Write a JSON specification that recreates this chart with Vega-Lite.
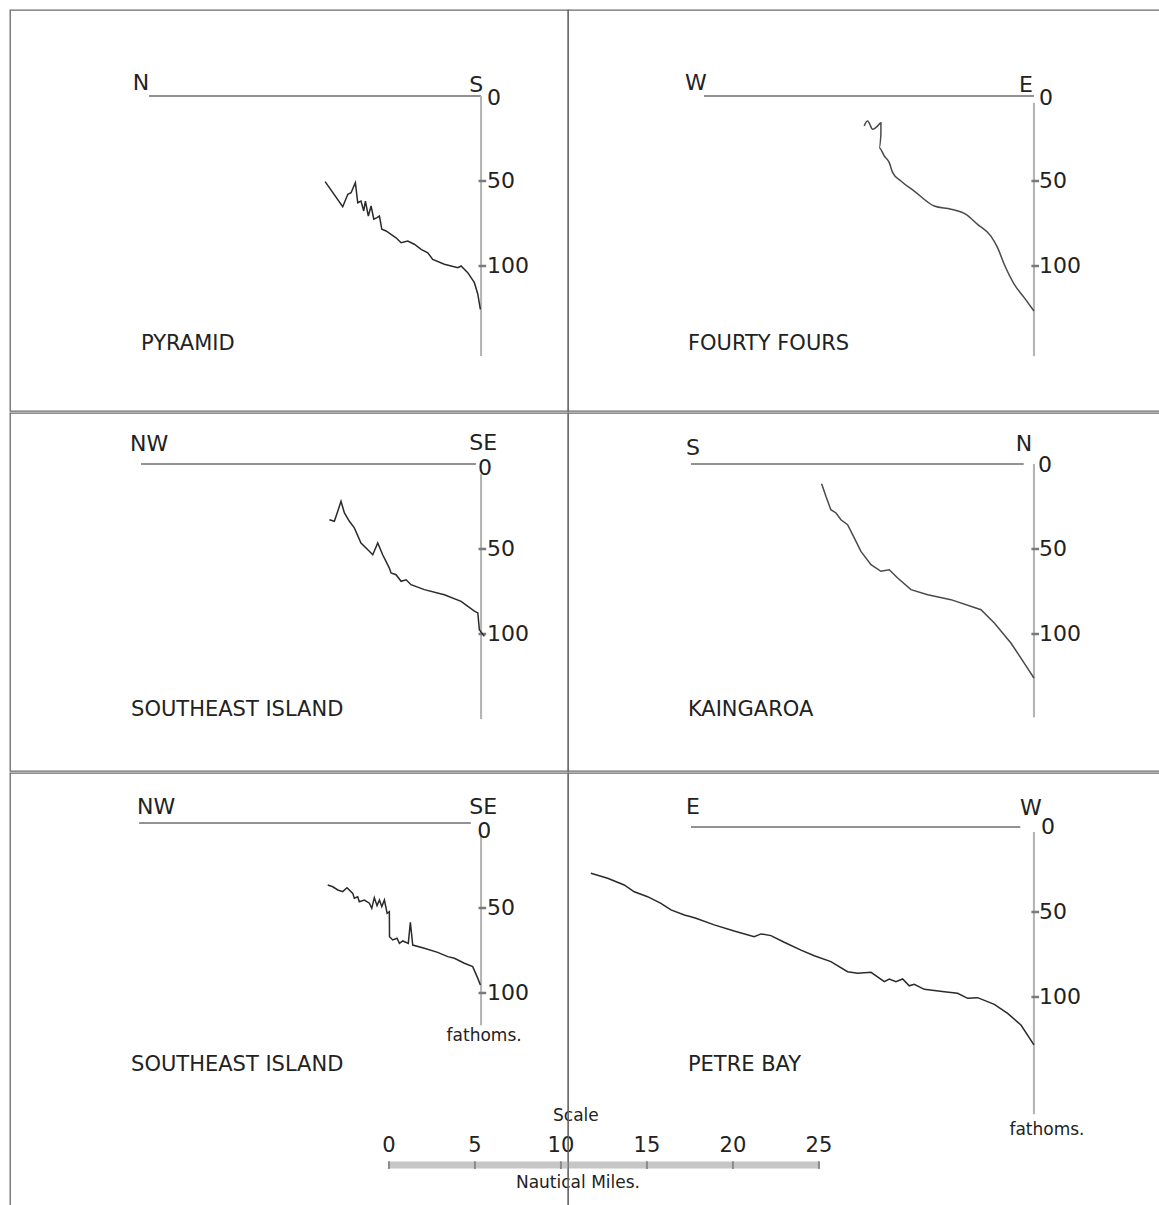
{
"$schema": "https://vega.github.io/schema/vega-lite/v6.json",
"padding": {"left": 9, "top": 9, "right": 0, "bottom": 2},
"background": "white",
"spacing": 0,
"config": {"view": {"stroke": "#6a6a6a", "strokeWidth": 1.3}, "concat": {"spacing": 0}, "text": {"font": "DejaVu Sans", "color": "#222"}},
"resolve": {"scale": {"x": "independent", "y": "independent"}},
"datasets": {
"rules": [
{"panel":"P1","kind":"surface","d":19.44,"d2":0,"depth":0,"depth2":0},
{"panel":"P1","kind":"axis","d":0,"d2":0,"depth":0,"depth2":153},
{"panel":"P1","kind":"tick","d":0.15,"d2":-0.3,"depth":50,"depth2":50},
{"panel":"P1","kind":"tick","d":0.15,"d2":-0.3,"depth":100,"depth2":100},
{"panel":"P2","kind":"surface","d":19.32,"d2":0,"depth":0,"depth2":0},
{"panel":"P2","kind":"axis","d":0,"d2":0,"depth":4,"depth2":153},
{"panel":"P2","kind":"tick","d":0.15,"d2":-0.3,"depth":50,"depth2":50},
{"panel":"P2","kind":"tick","d":0.15,"d2":-0.3,"depth":100,"depth2":100},
{"panel":"P3","kind":"surface","d":19.91,"d2":0.3,"depth":0,"depth2":0},
{"panel":"P3","kind":"axis","d":0,"d2":0,"depth":6,"depth2":150},
{"panel":"P3","kind":"tick","d":0.15,"d2":-0.3,"depth":50,"depth2":50},
{"panel":"P3","kind":"tick","d":0.15,"d2":-0.3,"depth":100,"depth2":100},
{"panel":"P4","kind":"surface","d":20.08,"d2":0.6,"depth":0,"depth2":0},
{"panel":"P4","kind":"axis","d":0,"d2":0,"depth":0,"depth2":149},
{"panel":"P4","kind":"tick","d":0.15,"d2":-0.3,"depth":50,"depth2":50},
{"panel":"P4","kind":"tick","d":0.15,"d2":-0.3,"depth":100,"depth2":100},
{"panel":"P5","kind":"surface","d":20.02,"d2":0.6,"depth":0,"depth2":0},
{"panel":"P5","kind":"axis","d":0,"d2":0,"depth":7,"depth2":119},
{"panel":"P5","kind":"tick","d":0.15,"d2":-0.3,"depth":50,"depth2":50},
{"panel":"P5","kind":"tick","d":0.15,"d2":-0.3,"depth":100,"depth2":100},
{"panel":"P6","kind":"surface","d":20.08,"d2":0.8,"depth":0,"depth2":0},
{"panel":"P6","kind":"axis","d":0,"d2":0,"depth":3,"depth2":169},
{"panel":"P6","kind":"tick","d":0.15,"d2":-0.3,"depth":50,"depth2":50},
{"panel":"P6","kind":"tick","d":0.15,"d2":-0.3,"depth":100,"depth2":100}
],
"labels": [
{"panel":"P1","role":"dir","text":"N","d":19.91,"depth":-7.6},
{"panel":"P1","role":"dir","text":"S","d":0.29,"depth":-6.5},
{"panel":"P1","role":"zero","text":"0","d":-0.76,"depth":1.2},
{"panel":"P1","role":"num","text":"50","d":-0.35,"depth":50},
{"panel":"P1","role":"num","text":"100","d":-0.35,"depth":100},
{"panel":"P1","role":"name","text":"PYRAMID","d":19.91,"depth":145.9},
{"panel":"P2","role":"dir","text":"W","d":19.79,"depth":-7.6},
{"panel":"P2","role":"dir","text":"E","d":0.47,"depth":-6.5},
{"panel":"P2","role":"zero","text":"0","d":-0.7,"depth":1.2},
{"panel":"P2","role":"num","text":"50","d":-0.3,"depth":50},
{"panel":"P2","role":"num","text":"100","d":-0.3,"depth":100},
{"panel":"P2","role":"name","text":"FOURTY FOURS","d":20.26,"depth":145.9},
{"panel":"P3","role":"dir","text":"NW","d":19.44,"depth":-11.8},
{"panel":"P3","role":"dir","text":"SE","d":-0.12,"depth":-12.4},
{"panel":"P3","role":"zero","text":"0","d":-0.23,"depth":2.6},
{"panel":"P3","role":"num","text":"50","d":-0.35,"depth":50},
{"panel":"P3","role":"num","text":"100","d":-0.35,"depth":100},
{"panel":"P3","role":"name","text":"SOUTHEAST ISLAND","d":20.49,"depth":144.7},
{"panel":"P4","role":"dir","text":"S","d":19.96,"depth":-9.4},
{"panel":"P4","role":"dir","text":"N","d":0.59,"depth":-11.8},
{"panel":"P4","role":"zero","text":"0","d":-0.64,"depth":0.6},
{"panel":"P4","role":"num","text":"50","d":-0.3,"depth":50},
{"panel":"P4","role":"num","text":"100","d":-0.3,"depth":100},
{"panel":"P4","role":"name","text":"KAINGAROA","d":20.26,"depth":144.7},
{"panel":"P5","role":"dir","text":"NW","d":19.03,"depth":-9.4},
{"panel":"P5","role":"dir","text":"SE","d":-0.12,"depth":-9.6},
{"panel":"P5","role":"zero","text":"0","d":-0.18,"depth":5.0},
{"panel":"P5","role":"num","text":"50","d":-0.35,"depth":50},
{"panel":"P5","role":"num","text":"100","d":-0.35,"depth":100},
{"panel":"P5","role":"name","text":"SOUTHEAST ISLAND","d":20.49,"depth":142.4},
{"panel":"P5","role":"unit","text":"fathoms.","d":-0.18,"depth":125.3},
{"panel":"P6","role":"dir","text":"E","d":19.96,"depth":-11.8},
{"panel":"P6","role":"dir","text":"W","d":0.18,"depth":-11.2},
{"panel":"P6","role":"zero","text":"0","d":-0.82,"depth":0},
{"panel":"P6","role":"num","text":"50","d":-0.3,"depth":50},
{"panel":"P6","role":"num","text":"100","d":-0.3,"depth":100},
{"panel":"P6","role":"name","text":"PETRE BAY","d":20.26,"depth":140},
{"panel":"P6","role":"unit","text":"fathoms.","d":-0.76,"depth":178.2}
],
"profiles": [
{"panel":"P1","i":1,"d":9.13,"depth":50.4},{"panel":"P1","i":2,"d":8.10,"depth":65.1},{"panel":"P1","i":3,"d":7.80,"depth":57.8},{"panel":"P1","i":4,"d":7.61,"depth":56.9},{"panel":"P1","i":5,"d":7.36,"depth":51.0},{"panel":"P1","i":6,"d":7.22,"depth":62.8},{"panel":"P1","i":7,"d":7.03,"depth":61.8},{"panel":"P1","i":8,"d":6.87,"depth":67.6},{"panel":"P1","i":9,"d":6.77,"depth":61.8},{"panel":"P1","i":10,"d":6.60,"depth":70.6},{"panel":"P1","i":11,"d":6.44,"depth":64.7},{"panel":"P1","i":12,"d":6.28,"depth":72.5},{"panel":"P1","i":13,"d":6.09,"depth":71.6},{"panel":"P1","i":14,"d":5.95,"depth":70.6},{"panel":"P1","i":15,"d":5.81,"depth":78.4},{"panel":"P1","i":16,"d":5.56,"depth":79.4},{"panel":"P1","i":17,"d":5.27,"depth":81.4},{"panel":"P1","i":18,"d":4.98,"depth":83.4},{"panel":"P1","i":19,"d":4.68,"depth":86.3},{"panel":"P1","i":20,"d":4.29,"depth":85.3},{"panel":"P1","i":21,"d":3.91,"depth":87.2},{"panel":"P1","i":22,"d":3.51,"depth":90.2},{"panel":"P1","i":23,"d":3.12,"depth":92.2},{"panel":"P1","i":24,"d":2.83,"depth":96.1},{"panel":"P1","i":25,"d":2.15,"depth":99.0},{"panel":"P1","i":26,"d":1.36,"depth":101.0},{"panel":"P1","i":27,"d":1.17,"depth":100.0},{"panel":"P1","i":28,"d":0.78,"depth":103.9},{"panel":"P1","i":29,"d":0.39,"depth":109.8},{"panel":"P1","i":30,"d":0.19,"depth":116.6},{"panel":"P1","i":31,"d":0.04,"depth":125.5},
{"panel":"P2","i":1,"d":9.94,"depth":17.6},{"panel":"P2","i":2,"d":9.74,"depth":14.7},{"panel":"P2","i":3,"d":9.44,"depth":19.6},{"panel":"P2","i":4,"d":9.15,"depth":17.6},{"panel":"P2","i":5,"d":8.96,"depth":15.7},{"panel":"P2","i":6,"d":8.96,"depth":22.5},{"panel":"P2","i":7,"d":9.06,"depth":30.4},{"panel":"P2","i":8,"d":8.76,"depth":35.3},{"panel":"P2","i":9,"d":8.47,"depth":39.2},{"panel":"P2","i":10,"d":8.27,"depth":45.1},{"panel":"P2","i":11,"d":7.79,"depth":50.0},{"panel":"P2","i":12,"d":7.01,"depth":55.9},{"panel":"P2","i":13,"d":5.84,"depth":64.7},{"panel":"P2","i":14,"d":4.86,"depth":66.6},{"panel":"P2","i":15,"d":3.98,"depth":69.6},{"panel":"P2","i":16,"d":3.30,"depth":75.5},{"panel":"P2","i":17,"d":2.52,"depth":82.4},{"panel":"P2","i":18,"d":2.13,"depth":89.2},{"panel":"P2","i":19,"d":1.74,"depth":99.0},{"panel":"P2","i":20,"d":1.15,"depth":110.8},{"panel":"P2","i":21,"d":0.57,"depth":118.6},{"panel":"P2","i":22,"d":0.0,"depth":126.5},
{"panel":"P3","i":1,"d":8.88,"depth":32.8},{"panel":"P3","i":2,"d":8.59,"depth":33.7},{"panel":"P3","i":3,"d":8.39,"depth":27.8},{"panel":"P3","i":4,"d":8.20,"depth":21.9},{"panel":"P3","i":5,"d":8.00,"depth":28.8},{"panel":"P3","i":6,"d":7.71,"depth":33.7},{"panel":"P3","i":7,"d":7.42,"depth":37.6},{"panel":"P3","i":8,"d":7.03,"depth":46.5},{"panel":"P3","i":9,"d":6.63,"depth":50.4},{"panel":"P3","i":10,"d":6.34,"depth":53.4},{"panel":"P3","i":11,"d":6.05,"depth":46.5},{"panel":"P3","i":12,"d":5.76,"depth":53.4},{"panel":"P3","i":13,"d":5.37,"depth":61.2},{"panel":"P3","i":14,"d":5.27,"depth":64.1},{"panel":"P3","i":15,"d":4.98,"depth":65.1},{"panel":"P3","i":16,"d":4.68,"depth":69.0},{"panel":"P3","i":17,"d":4.39,"depth":68.1},{"panel":"P3","i":18,"d":4.10,"depth":71.0},{"panel":"P3","i":19,"d":3.32,"depth":73.9},{"panel":"P3","i":20,"d":2.15,"depth":76.9},{"panel":"P3","i":21,"d":1.17,"depth":80.8},{"panel":"P3","i":22,"d":0.39,"depth":86.6},{"panel":"P3","i":23,"d":0.19,"depth":87.6},{"panel":"P3","i":24,"d":0.10,"depth":97.5},{"panel":"P3","i":25,"d":-0.19,"depth":101.4},
{"panel":"P4","i":1,"d":12.43,"depth":11.6},{"panel":"P4","i":2,"d":12.18,"depth":19.0},{"panel":"P4","i":3,"d":11.89,"depth":26.9},{"panel":"P4","i":4,"d":11.59,"depth":28.8},{"panel":"P4","i":5,"d":11.30,"depth":32.8},{"panel":"P4","i":6,"d":10.91,"depth":35.7},{"panel":"P4","i":7,"d":10.52,"depth":43.5},{"panel":"P4","i":8,"d":10.13,"depth":51.4},{"panel":"P4","i":9,"d":9.54,"depth":59.2},{"panel":"P4","i":10,"d":8.96,"depth":63.1},{"panel":"P4","i":11,"d":8.47,"depth":62.2},{"panel":"P4","i":12,"d":7.98,"depth":67.1},{"panel":"P4","i":13,"d":7.20,"depth":73.9},{"panel":"P4","i":14,"d":6.22,"depth":76.9},{"panel":"P4","i":15,"d":4.86,"depth":79.8},{"panel":"P4","i":16,"d":3.10,"depth":85.7},{"panel":"P4","i":17,"d":2.32,"depth":93.5},{"panel":"P4","i":18,"d":1.35,"depth":105.3},{"panel":"P4","i":19,"d":0.57,"depth":117.1},{"panel":"P4","i":20,"d":0.0,"depth":125.9},
{"panel":"P5","i":1,"d":8.98,"depth":36.5},{"panel":"P5","i":2,"d":8.68,"depth":37.5},{"panel":"P5","i":3,"d":8.39,"depth":39.4},{"panel":"P5","i":4,"d":8.10,"depth":40.4},{"panel":"P5","i":5,"d":7.85,"depth":38.1},{"panel":"P5","i":6,"d":7.51,"depth":41.4},{"panel":"P5","i":7,"d":7.42,"depth":44.3},{"panel":"P5","i":8,"d":7.22,"depth":43.4},{"panel":"P5","i":9,"d":7.13,"depth":46.3},{"panel":"P5","i":10,"d":6.83,"depth":45.3},{"panel":"P5","i":11,"d":6.54,"depth":47.2},{"panel":"P5","i":12,"d":6.40,"depth":50.2},{"panel":"P5","i":13,"d":6.25,"depth":43.9},{"panel":"P5","i":14,"d":6.09,"depth":48.6},{"panel":"P5","i":15,"d":5.95,"depth":45.3},{"panel":"P5","i":16,"d":5.81,"depth":49.2},{"panel":"P5","i":17,"d":5.66,"depth":45.3},{"panel":"P5","i":18,"d":5.50,"depth":53.1},{"panel":"P5","i":19,"d":5.37,"depth":52.2},{"panel":"P5","i":20,"d":5.36,"depth":66.9},{"panel":"P5","i":21,"d":5.17,"depth":68.8},{"panel":"P5","i":22,"d":4.92,"depth":67.8},{"panel":"P5","i":23,"d":4.78,"depth":70.8},{"panel":"P5","i":24,"d":4.58,"depth":69.4},{"panel":"P5","i":25,"d":4.26,"depth":70.8},{"panel":"P5","i":26,"d":4.14,"depth":58.4},{"panel":"P5","i":27,"d":4.00,"depth":71.8},{"panel":"P5","i":28,"d":3.32,"depth":73.7},{"panel":"P5","i":29,"d":2.54,"depth":76.1},{"panel":"P5","i":30,"d":1.95,"depth":78.6},{"panel":"P5","i":31,"d":1.56,"depth":79.6},{"panel":"P5","i":32,"d":0.98,"depth":82.5},{"panel":"P5","i":33,"d":0.49,"depth":84.5},{"panel":"P5","i":34,"d":0.19,"depth":91.4},{"panel":"P5","i":35,"d":0.04,"depth":95.3},
{"panel":"P6","i":1,"d":25.94,"depth":27.2},{"panel":"P6","i":2,"d":24.96,"depth":30.2},{"panel":"P6","i":3,"d":23.99,"depth":34.1},{"panel":"P6","i":4,"d":23.40,"depth":38.1},{"panel":"P6","i":5,"d":22.62,"depth":41.0},{"panel":"P6","i":6,"d":21.84,"depth":44.9},{"panel":"P6","i":7,"d":21.25,"depth":48.8},{"panel":"P6","i":8,"d":20.47,"depth":51.8},{"panel":"P6","i":9,"d":20.08,"depth":52.8},{"panel":"P6","i":10,"d":19.79,"depth":53.7},{"panel":"P6","i":11,"d":18.72,"depth":57.6},{"panel":"P6","i":12,"d":17.55,"depth":61.2},{"panel":"P6","i":13,"d":16.38,"depth":64.5},{"panel":"P6","i":14,"d":15.98,"depth":62.9},{"panel":"P6","i":15,"d":15.40,"depth":63.9},{"panel":"P6","i":16,"d":14.62,"depth":67.8},{"panel":"P6","i":17,"d":13.64,"depth":72.4},{"panel":"P6","i":18,"d":12.86,"depth":75.7},{"panel":"P6","i":19,"d":11.89,"depth":79.2},{"panel":"P6","i":20,"d":10.91,"depth":85.1},{"panel":"P6","i":21,"d":10.32,"depth":86.1},{"panel":"P6","i":22,"d":9.54,"depth":85.5},{"panel":"P6","i":23,"d":8.76,"depth":91.0},{"panel":"P6","i":24,"d":8.47,"depth":89.4},{"panel":"P6","i":25,"d":8.08,"depth":91.0},{"panel":"P6","i":26,"d":7.69,"depth":89.4},{"panel":"P6","i":27,"d":7.30,"depth":93.4},{"panel":"P6","i":28,"d":7.01,"depth":92.5},{"panel":"P6","i":29,"d":6.42,"depth":95.5},{"panel":"P6","i":30,"d":5.25,"depth":96.9},{"panel":"P6","i":31,"d":4.47,"depth":97.8},{"panel":"P6","i":32,"d":3.88,"depth":100.8},{"panel":"P6","i":33,"d":3.30,"depth":100.4},{"panel":"P6","i":34,"d":2.32,"depth":104.3},{"panel":"P6","i":35,"d":1.54,"depth":109.6},{"panel":"P6","i":36,"d":0.76,"depth":116.5},{"panel":"P6","i":37,"d":0.0,"depth":128.2}
],
"scale_bar": [{"mile":0,"mile2":25,"depth":201.2}],
"scale_ticks": [{"mile":0,"depth":199,"depth2":203.5},{"mile":5,"depth":199,"depth2":203.5},{"mile":10,"depth":199,"depth2":203.5},{"mile":15,"depth":199,"depth2":203.5},{"mile":20,"depth":199,"depth2":203.5},{"mile":25,"depth":199,"depth2":203.5}],
"scale_nums": [{"mile":0,"depth":190,"text":"0"},{"mile":5,"depth":190,"text":"5"},{"mile":10,"depth":190,"text":"10"},{"mile":15,"depth":190,"text":"15"},{"mile":20,"depth":190,"text":"20"},{"mile":25,"depth":190,"text":"25"}],
"scale_text": [{"mile":10.87,"depth":172.4,"text":"Scale"},{"mile":10.99,"depth":211.8,"text":"Nautical Miles."}]
},
"vconcat": [
{"spacing": 0, "bounds": "flush", "resolve": {"scale": {"x": "independent", "y": "independent"}}, "hconcat": [
{"width": 558, "height": 401,
 "encoding": {"x": {"field": "d", "type": "quantitative", "scale": {"domain": [-5.09, 27.58], "reverse": true, "nice": false, "zero": false}, "axis": null}, "y": {"field": "depth", "type": "quantitative", "scale": {"domain": [-50.59, 185.29], "reverse": true, "nice": false, "zero": false}, "axis": null}},
 "layer": [
  {"data": {"name": "rules"}, "transform": [{"filter": "datum.panel == 'P1'"}], "mark": {"type": "rule"}, "encoding": {"x2": {"field": "d2"}, "y2": {"field": "depth2"}, "color": {"field": "kind", "type": "nominal", "scale": {"domain": ["surface", "axis", "tick"], "range": ["#6e6e6e", "#b4b4b4", "#7a7a7a"]}, "legend": null}, "strokeWidth": {"field": "kind", "type": "nominal", "scale": {"domain": ["surface", "axis", "tick"], "range": [1.6, 2.5, 1.5]}, "legend": null}}},
  {"data": {"name": "profiles"}, "transform": [{"filter": "datum.panel == 'P1'"}], "mark": {"type": "line", "color": "#2a2a2a", "strokeWidth": 1.5}, "encoding": {"order": {"field": "i", "type": "quantitative"}}},
  {"data": {"name": "labels"}, "transform": [{"filter": "datum.panel == 'P1' && datum.role == 'dir'"}], "mark": {"type": "text", "align": "center", "baseline": "middle", "fontSize": 22}, "encoding": {"text": {"field": "text"}}},
  {"data": {"name": "labels"}, "transform": [{"filter": "datum.panel == 'P1' && datum.role == 'zero'"}], "mark": {"type": "text", "align": "center", "baseline": "middle", "fontSize": 22}, "encoding": {"text": {"field": "text"}}},
  {"data": {"name": "labels"}, "transform": [{"filter": "datum.panel == 'P1' && datum.role == 'num'"}], "mark": {"type": "text", "align": "left", "baseline": "middle", "fontSize": 22}, "encoding": {"text": {"field": "text"}}},
  {"data": {"name": "labels"}, "transform": [{"filter": "datum.panel == 'P1' && datum.role == 'name'"}], "mark": {"type": "text", "align": "left", "baseline": "middle", "fontSize": 21}, "encoding": {"text": {"field": "text"}}}
 ]},
{"width": 592, "height": 401,
 "encoding": {"x": {"field": "d", "type": "quantitative", "scale": {"domain": [-7.38, 27.28], "reverse": true, "nice": false, "zero": false}, "axis": null}, "y": {"field": "depth", "type": "quantitative", "scale": {"domain": [-50.59, 185.29], "reverse": true, "nice": false, "zero": false}, "axis": null}},
 "layer": [
  {"data": {"name": "rules"}, "transform": [{"filter": "datum.panel == 'P2'"}], "mark": {"type": "rule"}, "encoding": {"x2": {"field": "d2"}, "y2": {"field": "depth2"}, "color": {"field": "kind", "type": "nominal", "scale": {"domain": ["surface", "axis", "tick"], "range": ["#6e6e6e", "#b4b4b4", "#7a7a7a"]}, "legend": null}, "strokeWidth": {"field": "kind", "type": "nominal", "scale": {"domain": ["surface", "axis", "tick"], "range": [1.6, 2.5, 1.5]}, "legend": null}}},
  {"data": {"name": "profiles"}, "transform": [{"filter": "datum.panel == 'P2'"}], "mark": {"type": "line", "color": "#4a4a4a", "strokeWidth": 1.5, "interpolate": "monotone"}, "encoding": {"order": {"field": "i", "type": "quantitative"}}},
  {"data": {"name": "labels"}, "transform": [{"filter": "datum.panel == 'P2' && datum.role == 'dir'"}], "mark": {"type": "text", "align": "center", "baseline": "middle", "fontSize": 22}, "encoding": {"text": {"field": "text"}}},
  {"data": {"name": "labels"}, "transform": [{"filter": "datum.panel == 'P2' && datum.role == 'zero'"}], "mark": {"type": "text", "align": "center", "baseline": "middle", "fontSize": 22}, "encoding": {"text": {"field": "text"}}},
  {"data": {"name": "labels"}, "transform": [{"filter": "datum.panel == 'P2' && datum.role == 'num'"}], "mark": {"type": "text", "align": "left", "baseline": "middle", "fontSize": 22}, "encoding": {"text": {"field": "text"}}},
  {"data": {"name": "labels"}, "transform": [{"filter": "datum.panel == 'P2' && datum.role == 'name'"}], "mark": {"type": "text", "align": "left", "baseline": "middle", "fontSize": 21}, "encoding": {"text": {"field": "text"}}}
 ]}
]},
{"spacing": 0, "bounds": "flush", "resolve": {"scale": {"x": "independent", "y": "independent"}}, "hconcat": [
{"width": 558, "height": 358,
 "encoding": {"x": {"field": "d", "type": "quantitative", "scale": {"domain": [-5.09, 27.58], "reverse": true, "nice": false, "zero": false}, "axis": null}, "y": {"field": "depth", "type": "quantitative", "scale": {"domain": [-30, 180.59], "reverse": true, "nice": false, "zero": false}, "axis": null}},
 "layer": [
  {"data": {"name": "rules"}, "transform": [{"filter": "datum.panel == 'P3'"}], "mark": {"type": "rule"}, "encoding": {"x2": {"field": "d2"}, "y2": {"field": "depth2"}, "color": {"field": "kind", "type": "nominal", "scale": {"domain": ["surface", "axis", "tick"], "range": ["#6e6e6e", "#b4b4b4", "#7a7a7a"]}, "legend": null}, "strokeWidth": {"field": "kind", "type": "nominal", "scale": {"domain": ["surface", "axis", "tick"], "range": [1.6, 2.5, 1.5]}, "legend": null}}},
  {"data": {"name": "profiles"}, "transform": [{"filter": "datum.panel == 'P3'"}], "mark": {"type": "line", "color": "#2a2a2a", "strokeWidth": 1.5}, "encoding": {"order": {"field": "i", "type": "quantitative"}}},
  {"data": {"name": "labels"}, "transform": [{"filter": "datum.panel == 'P3' && datum.role == 'dir'"}], "mark": {"type": "text", "align": "center", "baseline": "middle", "fontSize": 22}, "encoding": {"text": {"field": "text"}}},
  {"data": {"name": "labels"}, "transform": [{"filter": "datum.panel == 'P3' && datum.role == 'zero'"}], "mark": {"type": "text", "align": "center", "baseline": "middle", "fontSize": 22}, "encoding": {"text": {"field": "text"}}},
  {"data": {"name": "labels"}, "transform": [{"filter": "datum.panel == 'P3' && datum.role == 'num'"}], "mark": {"type": "text", "align": "left", "baseline": "middle", "fontSize": 22}, "encoding": {"text": {"field": "text"}}},
  {"data": {"name": "labels"}, "transform": [{"filter": "datum.panel == 'P3' && datum.role == 'name'"}], "mark": {"type": "text", "align": "left", "baseline": "middle", "fontSize": 21}, "encoding": {"text": {"field": "text"}}}
 ]},
{"width": 592, "height": 358,
 "encoding": {"x": {"field": "d", "type": "quantitative", "scale": {"domain": [-7.38, 27.28], "reverse": true, "nice": false, "zero": false}, "axis": null}, "y": {"field": "depth", "type": "quantitative", "scale": {"domain": [-30, 180.59], "reverse": true, "nice": false, "zero": false}, "axis": null}},
 "layer": [
  {"data": {"name": "rules"}, "transform": [{"filter": "datum.panel == 'P4'"}], "mark": {"type": "rule"}, "encoding": {"x2": {"field": "d2"}, "y2": {"field": "depth2"}, "color": {"field": "kind", "type": "nominal", "scale": {"domain": ["surface", "axis", "tick"], "range": ["#6e6e6e", "#b4b4b4", "#7a7a7a"]}, "legend": null}, "strokeWidth": {"field": "kind", "type": "nominal", "scale": {"domain": ["surface", "axis", "tick"], "range": [1.6, 2.5, 1.5]}, "legend": null}}},
  {"data": {"name": "profiles"}, "transform": [{"filter": "datum.panel == 'P4'"}], "mark": {"type": "line", "color": "#4a4a4a", "strokeWidth": 1.5}, "encoding": {"order": {"field": "i", "type": "quantitative"}}},
  {"data": {"name": "labels"}, "transform": [{"filter": "datum.panel == 'P4' && datum.role == 'dir'"}], "mark": {"type": "text", "align": "center", "baseline": "middle", "fontSize": 22}, "encoding": {"text": {"field": "text"}}},
  {"data": {"name": "labels"}, "transform": [{"filter": "datum.panel == 'P4' && datum.role == 'zero'"}], "mark": {"type": "text", "align": "center", "baseline": "middle", "fontSize": 22}, "encoding": {"text": {"field": "text"}}},
  {"data": {"name": "labels"}, "transform": [{"filter": "datum.panel == 'P4' && datum.role == 'num'"}], "mark": {"type": "text", "align": "left", "baseline": "middle", "fontSize": 22}, "encoding": {"text": {"field": "text"}}},
  {"data": {"name": "labels"}, "transform": [{"filter": "datum.panel == 'P4' && datum.role == 'name'"}], "mark": {"type": "text", "align": "left", "baseline": "middle", "fontSize": 21}, "encoding": {"text": {"field": "text"}}}
 ]}
]},
{"spacing": 0, "bounds": "flush", "resolve": {"scale": {"x": "independent", "y": "independent"}}, "hconcat": [
{"width": 558, "height": 435,
 "resolve": {"scale": {"x": "independent"}},
 "layer": [
  {"encoding": {"x": {"field": "d", "type": "quantitative", "scale": {"domain": [-5.09, 27.58], "reverse": true, "nice": false, "zero": false}, "axis": null}, "y": {"field": "depth", "type": "quantitative", "scale": {"domain": [-29.41, 226.47], "reverse": true, "nice": false, "zero": false}, "axis": null}},
   "layer": [
    {"data": {"name": "rules"}, "transform": [{"filter": "datum.panel == 'P5'"}], "mark": {"type": "rule"}, "encoding": {"x2": {"field": "d2"}, "y2": {"field": "depth2"}, "color": {"field": "kind", "type": "nominal", "scale": {"domain": ["surface", "axis", "tick"], "range": ["#3a3a3a", "#b4b4b4", "#7a7a7a"]}, "legend": null}, "strokeWidth": {"field": "kind", "type": "nominal", "scale": {"domain": ["surface", "axis", "tick"], "range": [1.6, 2.5, 1.5]}, "legend": null}}},
    {"data": {"name": "profiles"}, "transform": [{"filter": "datum.panel == 'P5'"}], "mark": {"type": "line", "color": "#2a2a2a", "strokeWidth": 1.5}, "encoding": {"order": {"field": "i", "type": "quantitative"}}},
    {"data": {"name": "labels"}, "transform": [{"filter": "datum.panel == 'P5' && datum.role == 'dir'"}], "mark": {"type": "text", "align": "center", "baseline": "middle", "fontSize": 22}, "encoding": {"text": {"field": "text"}}},
    {"data": {"name": "labels"}, "transform": [{"filter": "datum.panel == 'P5' && datum.role == 'zero'"}], "mark": {"type": "text", "align": "center", "baseline": "middle", "fontSize": 22}, "encoding": {"text": {"field": "text"}}},
    {"data": {"name": "labels"}, "transform": [{"filter": "datum.panel == 'P5' && datum.role == 'num'"}], "mark": {"type": "text", "align": "left", "baseline": "middle", "fontSize": 22}, "encoding": {"text": {"field": "text"}}},
    {"data": {"name": "labels"}, "transform": [{"filter": "datum.panel == 'P5' && datum.role == 'name'"}], "mark": {"type": "text", "align": "left", "baseline": "middle", "fontSize": 21}, "encoding": {"text": {"field": "text"}}},
    {"data": {"name": "labels"}, "transform": [{"filter": "datum.panel == 'P5' && datum.role == 'unit'"}], "mark": {"type": "text", "align": "center", "baseline": "middle", "fontSize": 17}, "encoding": {"text": {"field": "text"}}}
   ]},
  {"encoding": {"x": {"field": "mile", "type": "quantitative", "scale": {"domain": [-22.03, 10.41], "nice": false, "zero": false}, "axis": null}, "y": {"field": "depth", "type": "quantitative", "scale": {"domain": [-29.41, 226.47], "reverse": true, "nice": false, "zero": false}, "axis": null}},
   "layer": [
    {"data": {"name": "scale_bar"}, "mark": {"type": "rule", "color": "#c6c6c6", "strokeWidth": 7}, "encoding": {"x2": {"field": "mile2"}}},
    {"data": {"name": "scale_ticks"}, "mark": {"type": "rule", "color": "#8a8a8a", "strokeWidth": 2}, "encoding": {"y2": {"field": "depth2"}}},
    {"data": {"name": "scale_nums"}, "mark": {"type": "text", "align": "center", "baseline": "middle", "fontSize": 21}, "encoding": {"text": {"field": "text"}}},
    {"data": {"name": "scale_text"}, "mark": {"type": "text", "align": "center", "baseline": "middle", "fontSize": 17}, "encoding": {"text": {"field": "text"}}}
   ]}
 ]},
{"width": 592, "height": 435,
 "encoding": {"x": {"field": "d", "type": "quantitative", "scale": {"domain": [-7.38, 27.28], "reverse": true, "nice": false, "zero": false}, "axis": null}, "y": {"field": "depth", "type": "quantitative", "scale": {"domain": [-31.76, 224.12], "reverse": true, "nice": false, "zero": false}, "axis": null}},
 "layer": [
  {"data": {"name": "rules"}, "transform": [{"filter": "datum.panel == 'P6'"}], "mark": {"type": "rule"}, "encoding": {"x2": {"field": "d2"}, "y2": {"field": "depth2"}, "color": {"field": "kind", "type": "nominal", "scale": {"domain": ["surface", "axis", "tick"], "range": ["#6e6e6e", "#b4b4b4", "#7a7a7a"]}, "legend": null}, "strokeWidth": {"field": "kind", "type": "nominal", "scale": {"domain": ["surface", "axis", "tick"], "range": [1.6, 2.5, 1.5]}, "legend": null}}},
  {"data": {"name": "profiles"}, "transform": [{"filter": "datum.panel == 'P6'"}], "mark": {"type": "line", "color": "#2a2a2a", "strokeWidth": 1.5}, "encoding": {"order": {"field": "i", "type": "quantitative"}}},
  {"data": {"name": "labels"}, "transform": [{"filter": "datum.panel == 'P6' && datum.role == 'dir'"}], "mark": {"type": "text", "align": "center", "baseline": "middle", "fontSize": 22}, "encoding": {"text": {"field": "text"}}},
  {"data": {"name": "labels"}, "transform": [{"filter": "datum.panel == 'P6' && datum.role == 'zero'"}], "mark": {"type": "text", "align": "center", "baseline": "middle", "fontSize": 22}, "encoding": {"text": {"field": "text"}}},
  {"data": {"name": "labels"}, "transform": [{"filter": "datum.panel == 'P6' && datum.role == 'num'"}], "mark": {"type": "text", "align": "left", "baseline": "middle", "fontSize": 22}, "encoding": {"text": {"field": "text"}}},
  {"data": {"name": "labels"}, "transform": [{"filter": "datum.panel == 'P6' && datum.role == 'name'"}], "mark": {"type": "text", "align": "left", "baseline": "middle", "fontSize": 21}, "encoding": {"text": {"field": "text"}}},
  {"data": {"name": "labels"}, "transform": [{"filter": "datum.panel == 'P6' && datum.role == 'unit'"}], "mark": {"type": "text", "align": "center", "baseline": "middle", "fontSize": 17}, "encoding": {"text": {"field": "text"}}}
 ]}
]}
]
}
